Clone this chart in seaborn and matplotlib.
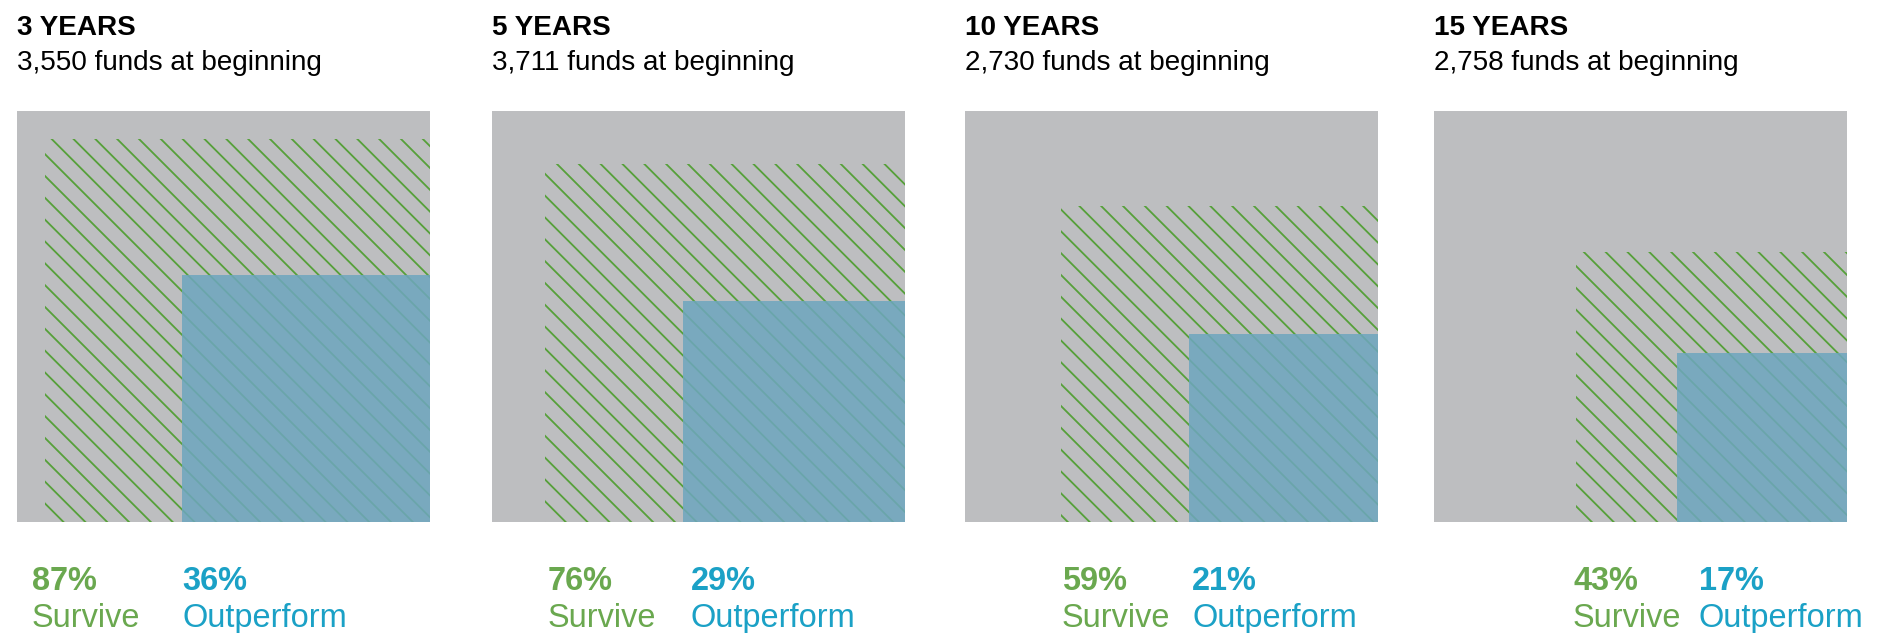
import numpy as np
import matplotlib
matplotlib.use("Agg")
import matplotlib.pyplot as plt
import seaborn as sns

# Data
periods = ["3 YEARS", "5 YEARS", "10 YEARS", "15 YEARS"]
funds_start = ["3,550", "3,711", "2,730", "2,758"]
survive_pct = [87, 76, 59, 43]
outperform_pct = [36, 29, 21, 17]

# Colours
GRAY = "#bdbec0"
HATCH_GREEN = "#56a03a"
BLUE_FILL = "#6ea6be"
GREEN_TXT = "#6aa84f"
BLUE_TXT = "#1ba1c6"

sns.set_theme(style="white")
plt.rcParams["font.family"] = ["Liberation Sans", "DejaVu Sans"]
plt.rcParams["hatch.linewidth"] = 1.0

DPI = 131
W, H = 1881, 633
fig = plt.figure(figsize=(W / DPI, H / DPI), dpi=DPI)

# panel layout in pixels
panel_left = [17, 492, 965, 1434]
panel_size = 413
panel_bottom = 522
label_x = [(32, 182), (548, 691), (1062, 1192), (1573, 1699)]


def fx(px):
    return px / W


def fy(py):
    return 1 - py / H


for i, period in enumerate(periods):
    ax = fig.add_axes([fx(panel_left[i]), fy(panel_bottom),
                       panel_size / W, 411 / H])
    ax.set_xlim(0, 1)
    ax.set_ylim(0, 1)
    ax.set_axis_off()

    # whole population
    ax.bar(0, 1, width=1, align="edge", color=GRAY, linewidth=0)
    # survivors: area proportional to share, anchored bottom right
    s = np.sqrt(survive_pct[i] / 100)
    ax.bar(1 - s, s, width=s, align="edge", facecolor="none",
           edgecolor=HATCH_GREEN, hatch="\\\\", linewidth=0)
    # outperformers
    o = np.sqrt(outperform_pct[i] / 100)
    ax.bar(1 - o, o, width=o, align="edge", color=BLUE_FILL, alpha=0.86,
           linewidth=0)

    # headings
    fig.text(fx(panel_left[i]), fy(35), period, fontsize=15.3,
             fontweight="bold", color="black", va="baseline")
    fig.text(fx(panel_left[i]), fy(70), f"{funds_start[i]} funds at beginning",
             fontsize=15.3, color="black", va="baseline")

    # bottom labels
    sx, ox = label_x[i]
    fig.text(fx(sx), fy(590), f"{survive_pct[i]}%", fontsize=17.9,
             fontweight="bold", color=GREEN_TXT, va="baseline")
    fig.text(fx(sx), fy(627), "Survive", fontsize=17.9,
             color=GREEN_TXT, va="baseline")
    fig.text(fx(ox), fy(590), f"{outperform_pct[i]}%", fontsize=17.9,
             fontweight="bold", color=BLUE_TXT, va="baseline")
    fig.text(fx(ox), fy(627), "Outperform", fontsize=17.9,
             color=BLUE_TXT, va="baseline")

fig.savefig("out.png", dpi=DPI, facecolor="white")
